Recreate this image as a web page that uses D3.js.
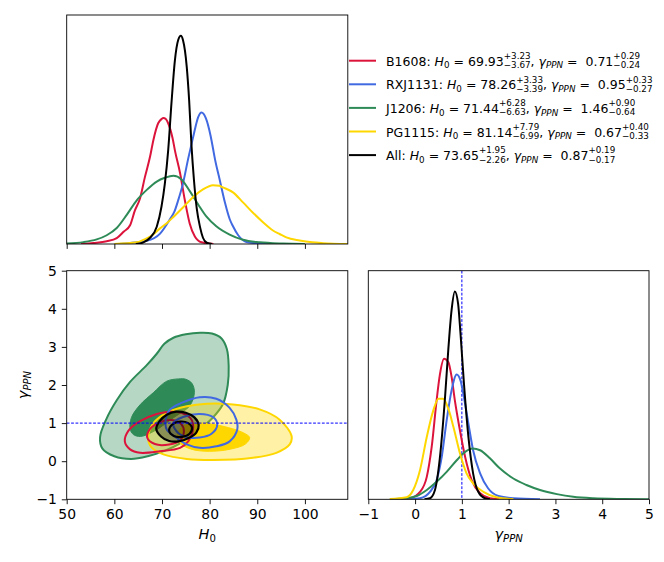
<!DOCTYPE html>
<html><head><meta charset="utf-8">
<script src="https://cdn.jsdelivr.net/npm/d3@7"></script>
<style>
body{margin:0;background:#fff}
svg{display:block}
text{font-family:"DejaVu Sans",sans-serif;fill:#000}
</style>
</head><body>
<svg id="c" width="664" height="562"></svg>
<script>
// ---------------- DATA ----------------
const seriesNames = ["B1608", "RXJ1131", "J1206", "PG1115", "All"];
const h0Median = ["69.93", "78.26", "71.44", "81.14", "73.65"];
const h0ErrPlus = ["+3.23", "+3.33", "+6.28", "+7.79", "+1.95"];
const h0ErrMinus = ["−3.67", "−3.39", "−6.63", "−6.99", "−2.26"];
const gammaMedian = ["0.71", "0.95", "1.46", "0.67", "0.87"];
const gammaErrPlus = ["+0.29", "+0.33", "+0.90", "+0.40", "+0.19"];
const gammaErrMinus = ["−0.24", "−0.27", "−0.64", "−0.33", "−0.17"];

const h0Ticks = [50, 60, 70, 80, 90, 100];
const gammaTicks = [-1, 0, 1, 2, 3, 4, 5];
const gammaReference = 1;

// marginal posteriors of H0 (normalised, All peak = 1)
const h0Density_B1608 = [[53,0],[55.6,0.005],[58.4,0.013],[60.5,0.028],[62.0,0.06],[63.3,0.09],[64.3,0.16],[65.4,0.22],[66.4,0.32],[67.5,0.42],[68.2,0.5],[69.2,0.58],[69.9,0.6],[70.3,0.605],[70.8,0.6],[71.3,0.58],[72.2,0.51],[72.8,0.44],[73.8,0.34],[74.8,0.21],[75.8,0.1],[76.9,0.036],[78.3,0.008],[80.8,0]];
const h0Density_RXJ1131 = [[61,0],[63.3,0.005],[66.8,0.015],[69.6,0.05],[71.7,0.12],[72.6,0.155],[73.4,0.21],[74.4,0.29],[75.5,0.41],[76.2,0.48],[76.7,0.53],[77.6,0.61],[78.3,0.632],[79.2,0.605],[80.2,0.52],[80.7,0.46],[81.1,0.41],[82.1,0.31],[83.2,0.2],[84.2,0.12],[84.9,0.085],[86.0,0.042],[87.7,0.01],[90.5,0.002],[93,0]];
const h0Density_J1206 = [[50,0.003],[53.5,0.009],[56.3,0.022],[58.4,0.042],[60.5,0.077],[62.6,0.14],[64.7,0.21],[66.8,0.26],[68.9,0.3],[70.6,0.318],[72.4,0.328],[74.1,0.31],[75.8,0.255],[77.6,0.19],[79.4,0.13],[81.4,0.085],[84.2,0.045],[87.0,0.02],[90.5,0.008],[95.4,0.002],[100,0]];
const h0Density_PG1115 = [[60,0],[64.7,0.008],[66.1,0.02],[67.5,0.035],[69.6,0.075],[71.0,0.1],[72.4,0.13],[74.4,0.175],[76.5,0.225],[78.6,0.262],[80.7,0.282],[82.0,0.28],[82.8,0.272],[84.9,0.248],[87.0,0.2],[89.1,0.15],[91.2,0.105],[93.3,0.065],[94.7,0.048],[96.1,0.032],[98.9,0.017],[101.5,0.008],[103.8,0.004],[108.9,0]];
const h0Density_All = [[64.5,0],[66.1,0.008],[67.5,0.03],[68.9,0.083],[69.9,0.18],[70.6,0.29],[71.3,0.45],[72.0,0.68],[72.7,0.88],[73.4,0.98],[73.96,1.0],[74.4,0.98],[75.2,0.85],[75.7,0.69],[76.2,0.47],[76.7,0.31],[77.3,0.17],[78.0,0.08],[78.6,0.03],[79.4,0.006],[80.5,0]];

// marginal posteriors of gamma_PPN (normalised, All peak = 1)
const gammaDensity_B1608 = [[-0.3,0],[-0.11,0.005],[0.105,0.036],[0.25,0.108],[0.355,0.252],[0.46,0.476],[0.53,0.6],[0.62,0.676],[0.71,0.66],[0.78,0.59],[0.85,0.476],[0.96,0.33],[1.07,0.204],[1.21,0.092],[1.39,0.029],[1.6,0.005],[1.8,0]];
const gammaDensity_RXJ1131 = [[-0.1,0],[0.105,0.005],[0.318,0.036],[0.46,0.092],[0.57,0.204],[0.675,0.38],[0.78,0.524],[0.89,0.6],[0.97,0.572],[1.045,0.49],[1.14,0.364],[1.24,0.236],[1.39,0.125],[1.56,0.053],[1.78,0.016],[2.1,0.005],[2.67,0]];
const gammaDensity_J1206 = [[-0.54,0],[-0.18,0.005],[0.034,0.016],[0.25,0.045],[0.46,0.084],[0.675,0.132],[0.89,0.188],[1.07,0.228],[1.23,0.244],[1.39,0.236],[1.6,0.197],[1.81,0.149],[2.1,0.1],[2.38,0.069],[2.67,0.045],[3.03,0.025],[3.38,0.012],[3.81,0.005],[4.45,0.0015],[5.0,0]];
const gammaDensity_PG1115 = [[-0.54,0.001],[-0.18,0.01],[-0.04,0.045],[0.105,0.14],[0.25,0.3],[0.39,0.428],[0.5,0.484],[0.6,0.484],[0.71,0.436],[0.82,0.348],[0.96,0.22],[1.1,0.125],[1.24,0.077],[1.46,0.036],[1.74,0.01],[2.1,0.001]];
const gammaDensity_All = [[0.2,0],[0.318,0.005],[0.425,0.045],[0.53,0.2],[0.64,0.49],[0.71,0.72],[0.78,0.91],[0.85,1.0],[0.92,0.94],[0.97,0.8],[1.045,0.556],[1.14,0.3],[1.24,0.125],[1.35,0.036],[1.49,0.005],[1.6,0]];

// joint posterior contours [H0, gamma] (outer = 95%, inner = 68%)
const contourOuter_B1608 = [[62.2,0.52],[62.9,0.79],[65.4,1.05],[68.9,1.24],[71.7,1.3],[74.1,1.27],[76.2,1.09],[76.5,0.83],[75.5,0.52],[73.8,0.35],[69.6,0.26],[65.4,0.22],[63.3,0.31]];
const contourInner_B1608 = [[66.9,0.62],[67.5,0.85],[69.5,1.02],[72.0,1.08],[74.0,0.98],[74.6,0.78],[73.8,0.55],[71.5,0.44],[68.5,0.45]];
const contourOuter_RXJ1131 = [[77.9,1.68],[74.1,1.53],[71.7,1.36],[70.8,1.1],[71.0,0.83],[73.1,0.61],[75.2,0.44],[77.9,0.35],[81.4,0.39],[84.2,0.52],[85.8,0.83],[85.6,1.09],[84.2,1.4],[81.4,1.64]];
const contourInner_RXJ1131 = [[72.4,1.01],[74.4,1.16],[77.9,1.24],[80.7,1.16],[81.6,0.96],[80.4,0.72],[77.9,0.62],[75.2,0.63],[73.1,0.78]];
const contourOuter_J1206 = [[78.0,3.37],[75.0,3.33],[72.4,3.24],[70.5,3.08],[68.9,2.82],[66.8,2.52],[63.3,2.08],[60.5,1.6],[58.3,1.1],[57.0,0.63],[57.5,0.33],[60.0,0.13],[63.5,0.06],[67.0,0.13],[70.5,0.27],[74.0,0.48],[77.5,0.8],[80.5,1.12],[82.8,1.5],[83.8,2.0],[84.0,2.5],[83.6,2.95],[82.5,3.22],[80.5,3.35]];
const contourInner_J1206 = [[73.5,2.16],[71.0,2.1],[68.2,1.8],[65.4,1.48],[63.6,1.15],[63.3,0.85],[64.0,0.7],[65.5,0.65],[68.5,0.8],[72.5,1.15],[75.8,1.45],[76.8,1.8],[76.3,2.04],[75.0,2.15]];
const contourOuter_PG1115 = [[67.1,0.61],[68.2,1.0],[71.0,1.27],[75.2,1.44],[79.4,1.51],[84.9,1.49],[90.5,1.36],[94.7,1.09],[97.2,0.66],[96.8,0.44],[94.0,0.22],[89.1,0.09],[80.7,0.03],[75.2,0.06],[70.3,0.18],[67.8,0.36]];
const contourInner_PG1115 = [[74.5,0.92],[77.0,1.0],[80.0,0.98],[84.0,0.88],[87.0,0.75],[88.4,0.62],[87.5,0.45],[84.5,0.32],[80.0,0.26],[76.0,0.32],[73.6,0.5],[73.2,0.72]];
const contourOuter_All = [[68.8,0.85],[69.5,1.05],[71.0,1.22],[73.0,1.3],[75.0,1.27],[76.8,1.15],[77.7,0.95],[77.2,0.75],[75.5,0.6],[73.5,0.52],[71.5,0.53],[69.8,0.65]];
const contourInner_All = [[71.5,0.8],[72.2,0.97],[73.8,1.04],[75.5,1.0],[76.3,0.88],[75.8,0.72],[74.2,0.64],[72.5,0.66]];

// ---------------- BUILD ----------------
const colors = {B1608:"#dc143c", RXJ1131:"#4169e1", J1206:"#2e8b57", PG1115:"#ffd700", All:"#000000"};
const h0Dens = {B1608:h0Density_B1608, RXJ1131:h0Density_RXJ1131, J1206:h0Density_J1206, PG1115:h0Density_PG1115, All:h0Density_All};
const gDens = {B1608:gammaDensity_B1608, RXJ1131:gammaDensity_RXJ1131, J1206:gammaDensity_J1206, PG1115:gammaDensity_PG1115, All:gammaDensity_All};
const cOuter = {B1608:contourOuter_B1608, RXJ1131:contourOuter_RXJ1131, J1206:contourOuter_J1206, PG1115:contourOuter_PG1115, All:contourOuter_All};
const cInner = {B1608:contourInner_B1608, RXJ1131:contourInner_RXJ1131, J1206:contourInner_J1206, PG1115:contourInner_PG1115, All:contourInner_All};

const svg = d3.select("#c");
const P = {L:66.7, R:347.8, T:15, B:244};          // top panel
const Q = {L:66.7, R:347.8, T:270.7, B:499.3};     // bottom-left
const S = {L:368.3, R:649, T:270.7, B:499.3};      // bottom-right

const xH = d3.scaleLinear().domain([50, 109]).range([Q.L, Q.R]);
const yG = d3.scaleLinear().domain([-1, 5]).range([Q.B, Q.T]);
const yTop = d3.scaleLinear().domain([0, 1.1]).range([P.B, P.T]);
const xG = d3.scaleLinear().domain([-1, 5]).range([S.L, S.R]);
const yRight = d3.scaleLinear().domain([0, 1.1]).range([S.B, S.T]);

const fmt = d => (d < 0 ? "\u2212" + Math.abs(d) : String(d));
const TICK_FS = 13.9;

function clip(id, r) {
  svg.append("clipPath").attr("id", id).append("rect")
    .attr("x", r.L).attr("y", r.T).attr("width", r.R - r.L).attr("height", r.B - r.T);
}
clip("cp1", P); clip("cp2", Q); clip("cp3", S);

function styleAxis(g, labels) {
  g.select(".domain").remove();
  g.selectAll(".tick line").attr("stroke", "#000").attr("stroke-width", 0.9);
  g.selectAll(".tick text").attr("font-size", TICK_FS).attr("fill", "#000")
    .style("font-family", '"DejaVu Sans",sans-serif');
  if (!labels) g.selectAll(".tick text").remove();
}
function frame(r) {
  svg.append("rect").attr("x", r.L).attr("y", r.T).attr("width", r.R - r.L).attr("height", r.B - r.T)
    .attr("fill", "none").attr("stroke", "#000").attr("stroke-width", 0.9);
}

// ---- top panel: H0 marginals
const gTop = svg.append("g").attr("clip-path", "url(#cp1)");
const lineTop = d3.line().x(d => xH(d[0])).y(d => yTop(d[1])).curve(d3.curveMonotoneX);
seriesNames.forEach(n => {
  gTop.append("path").attr("d", lineTop(h0Dens[n])).attr("fill", "none")
    .attr("stroke", colors[n]).attr("stroke-width", 2).attr("stroke-linejoin", "round");
});
const axTop = svg.append("g").attr("transform", `translate(0,${P.B})`)
  .call(d3.axisBottom(xH).tickValues(h0Ticks).tickSize(4.9).tickPadding(4.9));
styleAxis(axTop, false);
frame(P);

// ---- bottom-left: joint contours
const gJ = svg.append("g").attr("clip-path", "url(#cp2)");
const closed = d3.line().x(d => xH(d[0])).y(d => yG(d[1])).curve(d3.curveCatmullRomClosed.alpha(0.5));
// J1206 filled
gJ.append("path").attr("d", closed(cOuter.J1206)).attr("fill", colors.J1206).attr("fill-opacity", 0.35)
  .attr("stroke", colors.J1206).attr("stroke-width", 2);
gJ.append("path").attr("d", closed(cInner.J1206)).attr("fill", colors.J1206).attr("stroke", colors.J1206).attr("stroke-width", 1);
// PG1115 filled
gJ.append("path").attr("d", closed(cOuter.PG1115)).attr("fill", colors.PG1115).attr("fill-opacity", 0.35)
  .attr("stroke", colors.PG1115).attr("stroke-width", 2);
gJ.append("path").attr("d", closed(cInner.PG1115)).attr("fill", colors.PG1115).attr("stroke", colors.PG1115).attr("stroke-width", 1);
// B1608, RXJ1131 lines
["B1608", "RXJ1131"].forEach(n => {
  gJ.append("path").attr("d", closed(cOuter[n])).attr("fill", "none").attr("stroke", colors[n]).attr("stroke-width", 2);
  gJ.append("path").attr("d", closed(cInner[n])).attr("fill", "none").attr("stroke", colors[n]).attr("stroke-width", 2);
});
// All
gJ.append("path").attr("d", closed(cOuter.All)).attr("fill", "#000").attr("fill-opacity", 0.33)
  .attr("stroke", "#000").attr("stroke-width", 2.2);
gJ.append("path").attr("d", closed(cInner.All)).attr("fill", "#000").attr("fill-opacity", 0.2)
  .attr("stroke", "#000").attr("stroke-width", 2.2);
// reference line gamma = 1
gJ.append("line").attr("x1", Q.L).attr("x2", Q.R).attr("y1", yG(gammaReference)).attr("y2", yG(gammaReference))
  .attr("stroke", "#0000ff").attr("stroke-width", 1).attr("stroke-dasharray", "2.8,1.6");

const axBLx = svg.append("g").attr("transform", `translate(0,${Q.B})`)
  .call(d3.axisBottom(xH).tickValues(h0Ticks).tickFormat(fmt).tickSize(4.9).tickPadding(4.9));
styleAxis(axBLx, true);
const axBLy = svg.append("g").attr("transform", `translate(${Q.L},0)`)
  .call(d3.axisLeft(yG).tickValues(gammaTicks).tickFormat(fmt).tickSize(4.9).tickPadding(4.9));
styleAxis(axBLy, true);
frame(Q);

// ---- bottom-right: gamma marginals
const gR = svg.append("g").attr("clip-path", "url(#cp3)");
const lineR = d3.line().x(d => xG(d[0])).y(d => yRight(d[1])).curve(d3.curveMonotoneX);
gR.append("line").attr("x1", xG(gammaReference)).attr("x2", xG(gammaReference)).attr("y1", S.T).attr("y2", S.B)
  .attr("stroke", "#0000ff").attr("stroke-width", 1).attr("stroke-dasharray", "2.8,1.6");
seriesNames.forEach(n => {
  gR.append("path").attr("d", lineR(gDens[n])).attr("fill", "none")
    .attr("stroke", colors[n]).attr("stroke-width", 2).attr("stroke-linejoin", "round");
});
const axBRx = svg.append("g").attr("transform", `translate(0,${S.B})`)
  .call(d3.axisBottom(xG).tickValues(gammaTicks).tickFormat(fmt).tickSize(4.9).tickPadding(4.9));
styleAxis(axBRx, true);
frame(S);

// ---- axis labels (math-style)
function mathRun(g, x, y, parts, fs, anchor) {
  const grp = g.append("g");
  let cx = 0;
  parts.forEach(p => {
    if (p.stack) {
      const sfs = fs * 0.7;
      const a = grp.append("text").attr("x", cx).attr("y", y - fs * 0.53).attr("font-size", sfs).text(p.stack[0]);
      const b = grp.append("text").attr("x", cx).attr("y", y + fs * 0.2).attr("font-size", sfs).text(p.stack[1]);
      cx += Math.max(a.node().getComputedTextLength(), b.node().getComputedTextLength());
    } else {
      const f = p.sub ? fs * 0.7 : fs;
      const t = grp.append("text").attr("x", cx).attr("y", y + (p.sub ? fs * 0.22 : 0))
        .attr("font-size", f).style("font-style", p.it ? "italic" : "normal").text(p.t);
      cx += t.node().getComputedTextLength();
    }
  });
  const dx = anchor === "middle" ? -cx / 2 : 0;
  grp.attr("transform", `translate(${x + dx},0)`);
  return grp;
}
const NB = "\u00A0";
mathRun(svg, (Q.L + Q.R) / 2, 538.5, [{t:"H", it:true}, {t:"0", sub:true}], 14.5, "middle");
mathRun(svg, (S.L + S.R) / 2, 538.5, [{t:"γ", it:true}, {t:"PPN", it:true, sub:true}], 14.5, "middle");
const yl = svg.append("g").attr("transform", `translate(28,${(Q.T + Q.B) / 2}) rotate(-90)`);
mathRun(yl, 0, 0, [{t:"γ", it:true}, {t:"PPN", it:true, sub:true}], 14.5, "middle");

// ---- legend
const LEG_FS = 12.5;
const legY0 = 60.7, legDY = 23.6;
const gl = svg.append("g");
seriesNames.forEach((n, i) => {
  const y = legY0 + i * legDY;
  gl.append("line").attr("x1", 349).attr("x2", 376).attr("y1", y).attr("y2", y)
    .attr("stroke", colors[n]).attr("stroke-width", 2);
  mathRun(gl, 386, y + 5, [
    {t: n + ":" + NB},
    {t: "H", it: true}, {t: "0", sub: true},
    {t: NB + "=" + NB + h0Median[i]},
    {stack: [h0ErrPlus[i], h0ErrMinus[i]]},
    {t: "," + NB},
    {t: "γ", it: true}, {t: "PPN", it: true, sub: true},
    {t: NB + "=" + NB + NB + gammaMedian[i]},
    {stack: [gammaErrPlus[i], gammaErrMinus[i]]}
  ], LEG_FS, "start");
});
</script>
</body></html>
